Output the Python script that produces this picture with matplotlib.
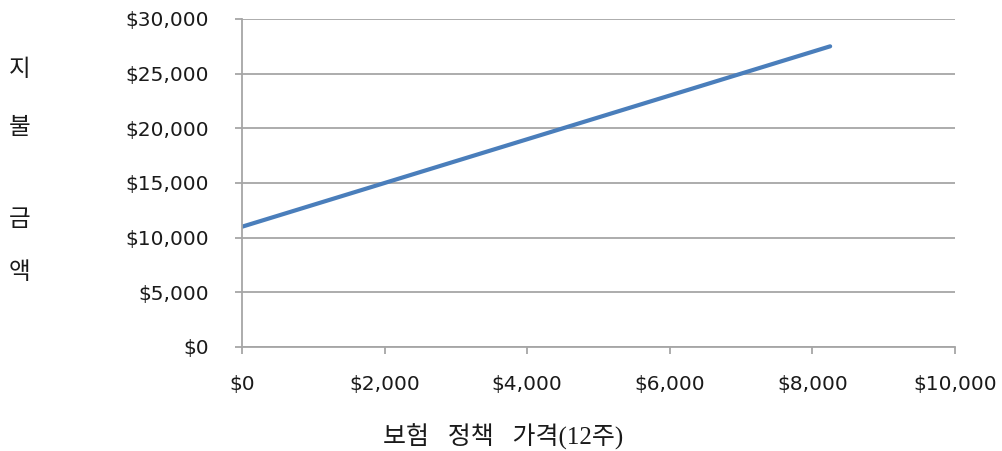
import matplotlib.pyplot as plt
from matplotlib.ticker import FuncFormatter

# 보험 정책 가격 vs 지불 금액
policy_price = [0, 2000, 4000, 6000, 8250]
payment = [11000, 15000, 19000, 23000, 27500]

x_ticks = [0, 2000, 4000, 6000, 8000, 10000]
y_ticks = [0, 5000, 10000, 15000, 20000, 25000, 30000]

x_label = "보험   정책   가격(12주)"
y_label_chars = ["지", "불", "금", "액"]

grid_color = "#A6A6A6"
line_color = "#4A7EBB"
text_color = "#1A1A1A"

fig = plt.figure(figsize=(10.02, 4.51), dpi=100)
ax = fig.add_axes([0.2415, 0.2306, 0.7115, 0.7273])

ax.plot(policy_price, payment, color=line_color, linewidth=3.0, solid_capstyle="round")

ax.set_xlim(0, 10000)
ax.set_ylim(0, 30000)
ax.set_xticks(x_ticks)
ax.set_yticks(y_ticks)
money = FuncFormatter(lambda v, p: f"${v:,.0f}")
ax.xaxis.set_major_formatter(money)
ax.yaxis.set_major_formatter(money)

ax.grid(axis="y", color=grid_color, linewidth=1.3)
ax.set_axisbelow(True)
for s in ["top", "right"]:
    ax.spines[s].set_visible(False)
for s in ["left", "bottom"]:
    ax.spines[s].set_color(grid_color)
    ax.spines[s].set_linewidth(1.3)

ax.tick_params(axis="x", direction="out", length=5, width=1.3, color=grid_color,
               pad=15, labelsize=14.5, labelcolor=text_color)
ax.tick_params(axis="y", direction="out", length=5, width=1.3, color=grid_color,
               pad=19, labelsize=14.5, labelcolor=text_color)
for lbl in ax.get_xticklabels() + ax.get_yticklabels():
    lbl.set_fontfamily("DejaVu Sans")

# 축 제목
kfont = ["Liberation Serif", "Noto Sans CJK KR", "DejaVu Sans"]
fig.text(503 / 1002, 1 - 437 / 451, x_label, ha="center", va="center",
         fontsize=18, family=kfont, color=text_color)
for ch, ypx in zip(y_label_chars, [70, 128, 220, 273]):
    fig.text(20 / 1002, 1 - ypx / 451, ch, ha="center", va="center",
             fontsize=17, family=kfont, color=text_color)

fig.savefig("out.png", dpi=100)
